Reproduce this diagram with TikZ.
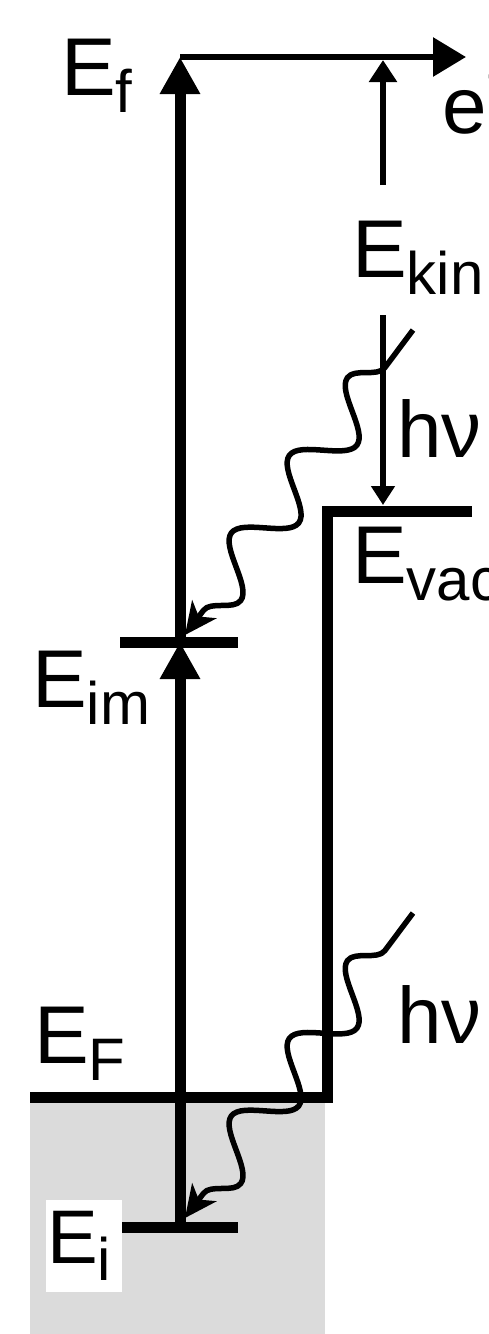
\documentclass[tikz,border=0pt]{standalone}
\usepackage{fontspec}
\setmainfont{Liberation Sans}
\usetikzlibrary{arrows.meta, decorations.pathmorphing}

\newcommand{\lsub}[1]{\raisebox{-17pt}{\fontsize{60}{66}\selectfont #1}}

\tikzset{
  level/.style={line width=11pt},
  lbl/.style={inner sep=0pt, anchor=base west, font=\fontsize{82}{90}\selectfont},
  thinarrow/.style={line width=6pt},
  photon/.style={line width=5.5pt, line join=round, decorate,
    decoration={snake, mirror, amplitude=24pt, segment length=97pt, pre length=47pt, post length=5pt},
    -{Stealth[length=32pt, width=30pt, inset=9pt]}},
}

\begin{document}
\begin{tikzpicture}[x=1pt, y=-1pt]
  \useasboundingbox (0,0) rectangle (488,1334);

  % Metal
  \fill[black!14] (30,1097) rectangle (325,1334);
  \fill[white] (46,1200) rectangle (122,1292);

  % Points
  \coordinate (FL) at (30,1097); \coordinate (vacL) at (327,511); \coordinate (vacR) at (472,511);
  \coordinate (imL) at (120,642); \coordinate (imR) at (238,642); \coordinate (im) at (180,642);
  \coordinate (iL) at (122,1227); \coordinate (iR) at (238,1227); \coordinate (i) at (180,1227);
  \coordinate (f) at (180,57); \coordinate (out) at (466,57);
  \coordinate (kinB) at (383,185); \coordinate (kinT) at (383,60);
  \coordinate (hvT) at (383,315); \coordinate (vac) at (383,505);
  \coordinate (ph1) at (413,330); \coordinate (ph1e) at (185,635);
  \coordinate (ph2) at (413,913); \coordinate (ph2e) at (185,1218);

  % Levels
  \draw[level] (FL) -| (vacL) -- (vacR);
  \draw[level] (imL) -- (imR);
  \draw[level] (iL) -- (iR);

  % Transitions
  \draw[level, -{Triangle[length=37pt, width=38pt]}] (i) -- (im);
  \draw[level, -{Triangle[length=37pt, width=38pt]}] (im) -- (f);
  \draw[thinarrow, -{Triangle[length=33pt, width=38pt]}] (f) -- (out);
  \draw[thinarrow, -{Triangle[length=22pt, width=27pt]}] (kinB) -- (kinT);
  \draw[thinarrow, -{Triangle[length=19pt, width=23pt]}] (hvT) -- (vac);

  % Photons
  \draw[photon] (ph1) -- (ph1e);
  \draw[photon] (ph2) -- (ph2e);

  % Labels
  \node[lbl] (lf) at (61,95) {E\lsub{f}};
  \node[lbl] (lkin) at (352,277) {E\lsub{kin}};
  \node[lbl] (lvac) at (352,583) {E\lsub{vac}};
  \node[lbl] (lim) at (32,707) {E\lsub{im}};
  \node[lbl] (lF) at (34,1063) {E\lsub{F}};
  \node[lbl, font=\fontsize{76}{84}\selectfont] (li) at (47,1263) {E\lsub{i}};
  \node[lbl, font=\fontsize{80}{88}\selectfont] (hv1) at (397,457) {hν};
  \node[lbl, font=\fontsize{80}{88}\selectfont] (hv2) at (397,1043) {hν};
  \node[lbl, font=\fontsize{80}{88}\selectfont] (le) at (442,133) {e\raisebox{38pt}{\fontsize{56}{60}\selectfont −}};
\end{tikzpicture}
\end{document}
